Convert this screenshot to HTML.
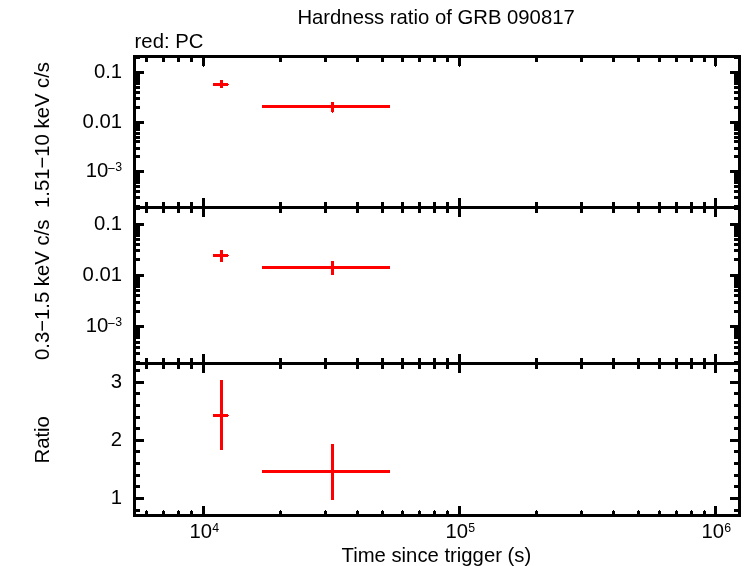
<!DOCTYPE html>
<html><head><meta charset="utf-8"><title>Hardness ratio of GRB 090817</title>
<style>html,body{margin:0;padding:0;background:#fff}svg{display:block}text{font-family:"Liberation Sans",sans-serif;fill:#000}</style></head><body>
<svg width="745" height="566" viewBox="0 0 745 566">
<rect width="745" height="566" fill="#fff"/>
<g shape-rendering="crispEdges">
<rect x="133" y="55" width="3" height="462" fill="#000"/>
<rect x="738" y="55" width="3" height="462" fill="#000"/>
<rect x="133" y="55" width="608" height="3" fill="#000"/>
<rect x="133" y="514" width="608" height="3" fill="#000"/>
<rect x="133" y="206" width="608" height="3" fill="#000"/>
<rect x="133" y="362" width="608" height="3" fill="#000"/>
<rect x="145" y="58" width="3" height="4" fill="#000"/>
<rect x="145" y="511" width="3" height="3" fill="#000"/>
<rect x="146" y="510" width="1" height="1" fill="#000"/>
<rect x="145" y="202" width="3" height="11" fill="#000"/>
<rect x="145" y="358" width="3" height="11" fill="#000"/>
<rect x="162" y="58" width="3" height="4" fill="#000"/>
<rect x="162" y="511" width="3" height="3" fill="#000"/>
<rect x="163" y="510" width="1" height="1" fill="#000"/>
<rect x="162" y="202" width="3" height="11" fill="#000"/>
<rect x="162" y="358" width="3" height="11" fill="#000"/>
<rect x="177" y="58" width="3" height="4" fill="#000"/>
<rect x="177" y="511" width="3" height="3" fill="#000"/>
<rect x="178" y="510" width="1" height="1" fill="#000"/>
<rect x="177" y="202" width="3" height="11" fill="#000"/>
<rect x="177" y="358" width="3" height="11" fill="#000"/>
<rect x="190" y="58" width="3" height="4" fill="#000"/>
<rect x="190" y="511" width="3" height="3" fill="#000"/>
<rect x="191" y="510" width="1" height="1" fill="#000"/>
<rect x="190" y="202" width="3" height="11" fill="#000"/>
<rect x="190" y="358" width="3" height="11" fill="#000"/>
<rect x="279" y="58" width="3" height="4" fill="#000"/>
<rect x="279" y="511" width="3" height="3" fill="#000"/>
<rect x="280" y="510" width="1" height="1" fill="#000"/>
<rect x="279" y="202" width="3" height="11" fill="#000"/>
<rect x="279" y="358" width="3" height="11" fill="#000"/>
<rect x="324" y="58" width="3" height="4" fill="#000"/>
<rect x="324" y="511" width="3" height="3" fill="#000"/>
<rect x="325" y="510" width="1" height="1" fill="#000"/>
<rect x="324" y="202" width="3" height="11" fill="#000"/>
<rect x="324" y="358" width="3" height="11" fill="#000"/>
<rect x="356" y="58" width="3" height="4" fill="#000"/>
<rect x="356" y="511" width="3" height="3" fill="#000"/>
<rect x="357" y="510" width="1" height="1" fill="#000"/>
<rect x="356" y="202" width="3" height="11" fill="#000"/>
<rect x="356" y="358" width="3" height="11" fill="#000"/>
<rect x="381" y="58" width="3" height="4" fill="#000"/>
<rect x="381" y="511" width="3" height="3" fill="#000"/>
<rect x="382" y="510" width="1" height="1" fill="#000"/>
<rect x="381" y="202" width="3" height="11" fill="#000"/>
<rect x="381" y="358" width="3" height="11" fill="#000"/>
<rect x="401" y="58" width="3" height="4" fill="#000"/>
<rect x="401" y="511" width="3" height="3" fill="#000"/>
<rect x="402" y="510" width="1" height="1" fill="#000"/>
<rect x="401" y="202" width="3" height="11" fill="#000"/>
<rect x="401" y="358" width="3" height="11" fill="#000"/>
<rect x="418" y="58" width="3" height="4" fill="#000"/>
<rect x="418" y="511" width="3" height="3" fill="#000"/>
<rect x="419" y="510" width="1" height="1" fill="#000"/>
<rect x="418" y="202" width="3" height="11" fill="#000"/>
<rect x="418" y="358" width="3" height="11" fill="#000"/>
<rect x="433" y="58" width="3" height="4" fill="#000"/>
<rect x="433" y="511" width="3" height="3" fill="#000"/>
<rect x="434" y="510" width="1" height="1" fill="#000"/>
<rect x="433" y="202" width="3" height="11" fill="#000"/>
<rect x="433" y="358" width="3" height="11" fill="#000"/>
<rect x="446" y="58" width="3" height="4" fill="#000"/>
<rect x="446" y="511" width="3" height="3" fill="#000"/>
<rect x="447" y="510" width="1" height="1" fill="#000"/>
<rect x="446" y="202" width="3" height="11" fill="#000"/>
<rect x="446" y="358" width="3" height="11" fill="#000"/>
<rect x="535" y="58" width="3" height="4" fill="#000"/>
<rect x="535" y="511" width="3" height="3" fill="#000"/>
<rect x="536" y="510" width="1" height="1" fill="#000"/>
<rect x="535" y="202" width="3" height="11" fill="#000"/>
<rect x="535" y="358" width="3" height="11" fill="#000"/>
<rect x="580" y="58" width="3" height="4" fill="#000"/>
<rect x="580" y="511" width="3" height="3" fill="#000"/>
<rect x="581" y="510" width="1" height="1" fill="#000"/>
<rect x="580" y="202" width="3" height="11" fill="#000"/>
<rect x="580" y="358" width="3" height="11" fill="#000"/>
<rect x="612" y="58" width="3" height="4" fill="#000"/>
<rect x="612" y="511" width="3" height="3" fill="#000"/>
<rect x="613" y="510" width="1" height="1" fill="#000"/>
<rect x="612" y="202" width="3" height="11" fill="#000"/>
<rect x="612" y="358" width="3" height="11" fill="#000"/>
<rect x="637" y="58" width="3" height="4" fill="#000"/>
<rect x="637" y="511" width="3" height="3" fill="#000"/>
<rect x="638" y="510" width="1" height="1" fill="#000"/>
<rect x="637" y="202" width="3" height="11" fill="#000"/>
<rect x="637" y="358" width="3" height="11" fill="#000"/>
<rect x="658" y="58" width="3" height="4" fill="#000"/>
<rect x="658" y="511" width="3" height="3" fill="#000"/>
<rect x="659" y="510" width="1" height="1" fill="#000"/>
<rect x="658" y="202" width="3" height="11" fill="#000"/>
<rect x="658" y="358" width="3" height="11" fill="#000"/>
<rect x="675" y="58" width="3" height="4" fill="#000"/>
<rect x="675" y="511" width="3" height="3" fill="#000"/>
<rect x="676" y="510" width="1" height="1" fill="#000"/>
<rect x="675" y="202" width="3" height="11" fill="#000"/>
<rect x="675" y="358" width="3" height="11" fill="#000"/>
<rect x="690" y="58" width="3" height="4" fill="#000"/>
<rect x="690" y="511" width="3" height="3" fill="#000"/>
<rect x="691" y="510" width="1" height="1" fill="#000"/>
<rect x="690" y="202" width="3" height="11" fill="#000"/>
<rect x="690" y="358" width="3" height="11" fill="#000"/>
<rect x="703" y="58" width="3" height="4" fill="#000"/>
<rect x="703" y="511" width="3" height="3" fill="#000"/>
<rect x="704" y="510" width="1" height="1" fill="#000"/>
<rect x="703" y="202" width="3" height="11" fill="#000"/>
<rect x="703" y="358" width="3" height="11" fill="#000"/>
<rect x="202" y="58" width="3" height="8" fill="#000"/>
<rect x="203" y="66" width="1" height="1" fill="#000"/>
<rect x="202" y="506" width="3" height="8" fill="#000"/>
<rect x="202" y="198" width="3" height="19" fill="#000"/>
<rect x="202" y="354" width="3" height="19" fill="#000"/>
<rect x="458" y="58" width="3" height="8" fill="#000"/>
<rect x="459" y="66" width="1" height="1" fill="#000"/>
<rect x="458" y="506" width="3" height="8" fill="#000"/>
<rect x="458" y="198" width="3" height="19" fill="#000"/>
<rect x="458" y="354" width="3" height="19" fill="#000"/>
<rect x="714" y="58" width="3" height="8" fill="#000"/>
<rect x="715" y="66" width="1" height="1" fill="#000"/>
<rect x="714" y="506" width="3" height="8" fill="#000"/>
<rect x="714" y="198" width="3" height="19" fill="#000"/>
<rect x="714" y="354" width="3" height="19" fill="#000"/>
<rect x="136" y="205" width="4" height="3" fill="#000"/>
<rect x="734" y="205" width="4" height="3" fill="#000"/>
<rect x="136" y="196" width="4" height="3" fill="#000"/>
<rect x="734" y="196" width="4" height="3" fill="#000"/>
<rect x="136" y="190" width="4" height="3" fill="#000"/>
<rect x="734" y="190" width="4" height="3" fill="#000"/>
<rect x="136" y="185" width="4" height="3" fill="#000"/>
<rect x="734" y="185" width="4" height="3" fill="#000"/>
<rect x="136" y="181" width="4" height="3" fill="#000"/>
<rect x="734" y="181" width="4" height="3" fill="#000"/>
<rect x="136" y="178" width="4" height="3" fill="#000"/>
<rect x="734" y="178" width="4" height="3" fill="#000"/>
<rect x="136" y="175" width="4" height="3" fill="#000"/>
<rect x="734" y="175" width="4" height="3" fill="#000"/>
<rect x="136" y="173" width="4" height="3" fill="#000"/>
<rect x="734" y="173" width="4" height="3" fill="#000"/>
<rect x="136" y="170" width="8" height="3" fill="#000"/>
<rect x="730" y="170" width="8" height="3" fill="#000"/>
<rect x="136" y="155" width="4" height="3" fill="#000"/>
<rect x="734" y="155" width="4" height="3" fill="#000"/>
<rect x="136" y="147" width="4" height="3" fill="#000"/>
<rect x="734" y="147" width="4" height="3" fill="#000"/>
<rect x="136" y="140" width="4" height="3" fill="#000"/>
<rect x="734" y="140" width="4" height="3" fill="#000"/>
<rect x="136" y="136" width="4" height="3" fill="#000"/>
<rect x="734" y="136" width="4" height="3" fill="#000"/>
<rect x="136" y="132" width="4" height="3" fill="#000"/>
<rect x="734" y="132" width="4" height="3" fill="#000"/>
<rect x="136" y="128" width="4" height="3" fill="#000"/>
<rect x="734" y="128" width="4" height="3" fill="#000"/>
<rect x="136" y="125" width="4" height="3" fill="#000"/>
<rect x="734" y="125" width="4" height="3" fill="#000"/>
<rect x="136" y="123" width="4" height="3" fill="#000"/>
<rect x="734" y="123" width="4" height="3" fill="#000"/>
<rect x="136" y="121" width="8" height="3" fill="#000"/>
<rect x="730" y="121" width="8" height="3" fill="#000"/>
<rect x="136" y="106" width="4" height="3" fill="#000"/>
<rect x="734" y="106" width="4" height="3" fill="#000"/>
<rect x="136" y="97" width="4" height="3" fill="#000"/>
<rect x="734" y="97" width="4" height="3" fill="#000"/>
<rect x="136" y="91" width="4" height="3" fill="#000"/>
<rect x="734" y="91" width="4" height="3" fill="#000"/>
<rect x="136" y="86" width="4" height="3" fill="#000"/>
<rect x="734" y="86" width="4" height="3" fill="#000"/>
<rect x="136" y="82" width="4" height="3" fill="#000"/>
<rect x="734" y="82" width="4" height="3" fill="#000"/>
<rect x="136" y="79" width="4" height="3" fill="#000"/>
<rect x="734" y="79" width="4" height="3" fill="#000"/>
<rect x="136" y="76" width="4" height="3" fill="#000"/>
<rect x="734" y="76" width="4" height="3" fill="#000"/>
<rect x="136" y="73" width="4" height="3" fill="#000"/>
<rect x="734" y="73" width="4" height="3" fill="#000"/>
<rect x="136" y="71" width="8" height="3" fill="#000"/>
<rect x="730" y="71" width="8" height="3" fill="#000"/>
<rect x="136" y="56" width="4" height="3" fill="#000"/>
<rect x="734" y="56" width="4" height="3" fill="#000"/>
<rect x="136" y="207" width="4" height="3" fill="#000"/>
<rect x="734" y="207" width="4" height="3" fill="#000"/>
<rect x="136" y="226" width="4" height="3" fill="#000"/>
<rect x="734" y="226" width="4" height="3" fill="#000"/>
<rect x="136" y="228" width="4" height="3" fill="#000"/>
<rect x="734" y="228" width="4" height="3" fill="#000"/>
<rect x="136" y="231" width="4" height="3" fill="#000"/>
<rect x="734" y="231" width="4" height="3" fill="#000"/>
<rect x="136" y="234" width="4" height="3" fill="#000"/>
<rect x="734" y="234" width="4" height="3" fill="#000"/>
<rect x="136" y="238" width="4" height="3" fill="#000"/>
<rect x="734" y="238" width="4" height="3" fill="#000"/>
<rect x="136" y="243" width="4" height="3" fill="#000"/>
<rect x="734" y="243" width="4" height="3" fill="#000"/>
<rect x="136" y="249" width="4" height="3" fill="#000"/>
<rect x="734" y="249" width="4" height="3" fill="#000"/>
<rect x="136" y="258" width="4" height="3" fill="#000"/>
<rect x="734" y="258" width="4" height="3" fill="#000"/>
<rect x="136" y="277" width="4" height="3" fill="#000"/>
<rect x="734" y="277" width="4" height="3" fill="#000"/>
<rect x="136" y="279" width="4" height="3" fill="#000"/>
<rect x="734" y="279" width="4" height="3" fill="#000"/>
<rect x="136" y="282" width="4" height="3" fill="#000"/>
<rect x="734" y="282" width="4" height="3" fill="#000"/>
<rect x="136" y="285" width="4" height="3" fill="#000"/>
<rect x="734" y="285" width="4" height="3" fill="#000"/>
<rect x="136" y="289" width="4" height="3" fill="#000"/>
<rect x="734" y="289" width="4" height="3" fill="#000"/>
<rect x="136" y="294" width="4" height="3" fill="#000"/>
<rect x="734" y="294" width="4" height="3" fill="#000"/>
<rect x="136" y="301" width="4" height="3" fill="#000"/>
<rect x="734" y="301" width="4" height="3" fill="#000"/>
<rect x="136" y="310" width="4" height="3" fill="#000"/>
<rect x="734" y="310" width="4" height="3" fill="#000"/>
<rect x="136" y="328" width="4" height="3" fill="#000"/>
<rect x="734" y="328" width="4" height="3" fill="#000"/>
<rect x="136" y="330" width="4" height="3" fill="#000"/>
<rect x="734" y="330" width="4" height="3" fill="#000"/>
<rect x="136" y="333" width="4" height="3" fill="#000"/>
<rect x="734" y="333" width="4" height="3" fill="#000"/>
<rect x="136" y="336" width="4" height="3" fill="#000"/>
<rect x="734" y="336" width="4" height="3" fill="#000"/>
<rect x="136" y="341" width="4" height="3" fill="#000"/>
<rect x="734" y="341" width="4" height="3" fill="#000"/>
<rect x="136" y="346" width="4" height="3" fill="#000"/>
<rect x="734" y="346" width="4" height="3" fill="#000"/>
<rect x="136" y="352" width="4" height="3" fill="#000"/>
<rect x="734" y="352" width="4" height="3" fill="#000"/>
<rect x="136" y="361" width="4" height="3" fill="#000"/>
<rect x="734" y="361" width="4" height="3" fill="#000"/>
<rect x="136" y="223" width="8" height="3" fill="#000"/>
<rect x="730" y="223" width="8" height="3" fill="#000"/>
<rect x="136" y="274" width="8" height="3" fill="#000"/>
<rect x="730" y="274" width="8" height="3" fill="#000"/>
<rect x="136" y="325" width="8" height="3" fill="#000"/>
<rect x="730" y="325" width="8" height="3" fill="#000"/>
<rect x="136" y="369" width="4" height="3" fill="#000"/>
<rect x="734" y="369" width="4" height="3" fill="#000"/>
<rect x="136" y="381" width="8" height="3" fill="#000"/>
<rect x="730" y="381" width="8" height="3" fill="#000"/>
<rect x="136" y="392" width="4" height="3" fill="#000"/>
<rect x="734" y="392" width="4" height="3" fill="#000"/>
<rect x="136" y="404" width="4" height="3" fill="#000"/>
<rect x="734" y="404" width="4" height="3" fill="#000"/>
<rect x="136" y="416" width="4" height="3" fill="#000"/>
<rect x="734" y="416" width="4" height="3" fill="#000"/>
<rect x="136" y="427" width="4" height="3" fill="#000"/>
<rect x="734" y="427" width="4" height="3" fill="#000"/>
<rect x="136" y="439" width="8" height="3" fill="#000"/>
<rect x="730" y="439" width="8" height="3" fill="#000"/>
<rect x="136" y="450" width="4" height="3" fill="#000"/>
<rect x="734" y="450" width="4" height="3" fill="#000"/>
<rect x="136" y="462" width="4" height="3" fill="#000"/>
<rect x="734" y="462" width="4" height="3" fill="#000"/>
<rect x="136" y="474" width="4" height="3" fill="#000"/>
<rect x="734" y="474" width="4" height="3" fill="#000"/>
<rect x="136" y="485" width="4" height="3" fill="#000"/>
<rect x="734" y="485" width="4" height="3" fill="#000"/>
<rect x="136" y="497" width="8" height="3" fill="#000"/>
<rect x="730" y="497" width="8" height="3" fill="#000"/>
<rect x="136" y="509" width="4" height="3" fill="#000"/>
<rect x="734" y="509" width="4" height="3" fill="#000"/>
<rect x="213" y="83" width="15" height="3" fill="#f00"/>
<rect x="220" y="80" width="3" height="8" fill="#f00"/>
<rect x="228" y="84" width="1" height="1" fill="#f00"/>
<rect x="262" y="105" width="128" height="3" fill="#f00"/>
<rect x="331" y="102" width="3" height="10" fill="#f00"/>
<rect x="332" y="112" width="1" height="1" fill="#f00"/>
<rect x="213" y="254" width="15" height="3" fill="#f00"/>
<rect x="220" y="250" width="3" height="12" fill="#f00"/>
<rect x="228" y="255" width="1" height="1" fill="#f00"/>
<rect x="262" y="266" width="128" height="3" fill="#f00"/>
<rect x="331" y="261" width="3" height="14" fill="#f00"/>
<rect x="213" y="414" width="15" height="3" fill="#f00"/>
<rect x="220" y="380" width="3" height="70" fill="#f00"/>
<rect x="228" y="415" width="1" height="1" fill="#f00"/>
<rect x="262" y="470" width="128" height="3" fill="#f00"/>
<rect x="331" y="444" width="3" height="56" fill="#f00"/>
</g>
<text x="297.4" y="24" font-size="20.3" text-anchor="start">Hardness ratio of GRB 090817</text>
<text x="134.6" y="48" font-size="20.3" text-anchor="start">red: PC</text>
<text x="341.5" y="562" font-size="20.3" text-anchor="start">Time since trigger (s)</text>
<text x="189.4" y="538" font-size="20.3" text-anchor="start">10<tspan x="212.3" y="532.4" font-size="12.3">4</tspan></text>
<text x="445.4" y="538" font-size="20.3" text-anchor="start">10<tspan x="468.3" y="532.4" font-size="12.3">5</tspan></text>
<text x="701.4" y="538" font-size="20.3" text-anchor="start">10<tspan x="724.3" y="532.4" font-size="12.3">6</tspan></text>
<text x="122.1" y="78" font-size="20.3" text-anchor="end">0.1</text>
<text x="122.1" y="128" font-size="20.3" text-anchor="end">0.01</text>
<text x="85.8" y="177" font-size="20.3" text-anchor="start">10<tspan x="107.6" y="173.2" font-size="13.3">−</tspan><tspan x="115.2" y="171" font-size="12.3">3</tspan></text>
<text x="122.1" y="230" font-size="20.3" text-anchor="end">0.1</text>
<text x="122.1" y="281" font-size="20.3" text-anchor="end">0.01</text>
<text x="85.8" y="332" font-size="20.3" text-anchor="start">10<tspan x="107.6" y="328.2" font-size="13.3">−</tspan><tspan x="115.2" y="326" font-size="12.3">3</tspan></text>
<text x="122.1" y="388" font-size="20.3" text-anchor="end">3</text>
<text x="122.1" y="446" font-size="20.3" text-anchor="end">2</text>
<text x="122.1" y="504" font-size="20.3" text-anchor="end">1</text>
<text transform="translate(49,208) rotate(-90)" font-size="20.3" text-anchor="start">1.51−10 keV c/s</text>
<text transform="translate(49,360) rotate(-90)" font-size="20.3" text-anchor="start">0.3−1.5 keV c/s</text>
<text transform="translate(49,463.5) rotate(-90)" font-size="20.3" text-anchor="start">Ratio</text>
</svg>
</body></html>
